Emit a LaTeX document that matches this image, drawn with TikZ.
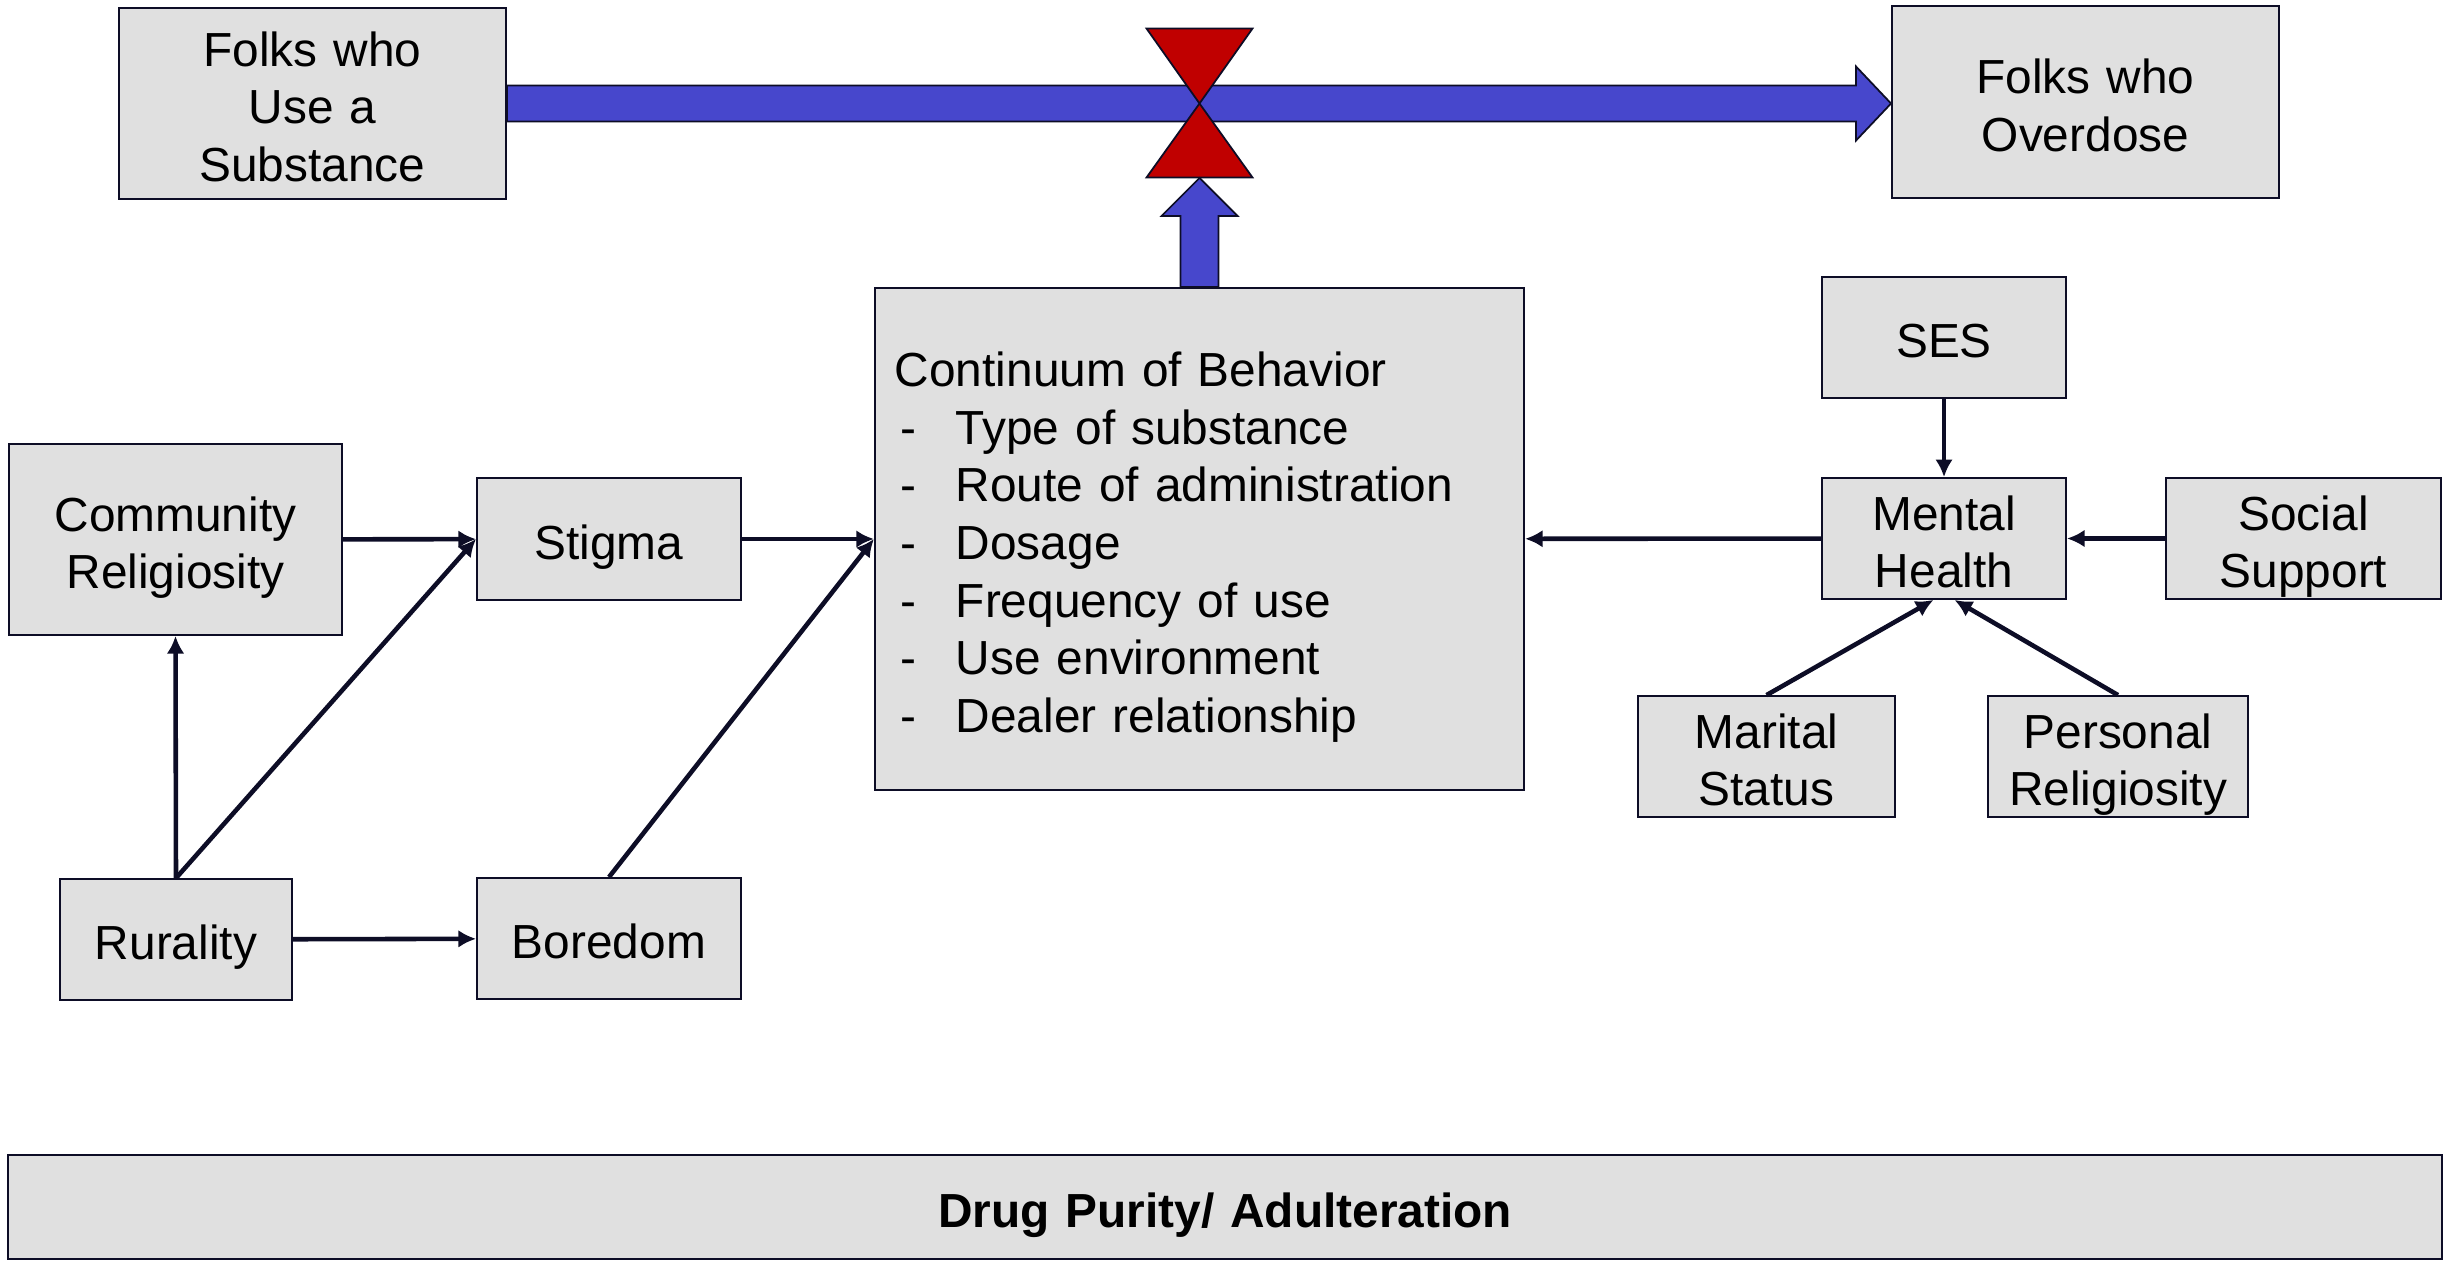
\documentclass[tikz,border=0pt]{standalone}
\usepackage{fontspec}
\setmainfont{Liberation Sans}
\usepackage{tikz}
\usetikzlibrary{arrows.meta, positioning, calc}

\definecolor{boxgray}{RGB}{224,224,224}
\definecolor{edgecol}{RGB}{13,13,38}
\definecolor{flowblue}{RGB}{71,71,204}
\definecolor{valvered}{RGB}{192,0,0}
\newcommand{\bodyfont}{\fontsize{13.6pt}{16.4pt}\selectfont}
\newcommand{\behav}[1]{\makebox[0.61cm][l]{\hspace{1.5pt}-}#1}

\begin{document}
\begin{tikzpicture}[x=0.01cm, y=-0.01cm,
  box/.style={draw=edgecol, fill=boxgray, line width=0.5pt, inner xsep=0.05cm, inner ysep=0pt, align=center, font=\bodyfont,
    execute at begin node={\rule{0pt}{14.6pt}}, execute at end node={\rule[-3pt]{0pt}{3pt}}},
  link/.style={draw=edgecol, line width=1.3pt, -{Latex[length=5pt,width=5pt]}},
  blockarrow/.style={draw=edgecol, fill=flowblue, line width=0.5pt},
  valvepart/.style={draw=edgecol, fill=valvered, line width=0.5pt}]
\useasboundingbox (0,0) rectangle (2458,1260);

% Stock and flow at the top
\node[box, text width=3.77cm, minimum height=1.91cm] (sub) at (312.5,103.5) {Folks who\\Use a\\Substance};
\node[box, text width=3.77cm, minimum height=1.92cm] (ovd) at (2085.5,102) {Folks who\\Overdose};
\coordinate (tip) at (sub.east -| ovd.west);
\draw[blockarrow] ($(sub.east)+(0,-18)$) -- ($(tip)+(-35,-18)$) -- ($(tip)+(-35,-37)$) -- (tip)
  -- ($(tip)+(-35,37)$) -- ($(tip)+(-35,18)$) -- ($(sub.east)+(0,18)$) -- cycle;

% Behaviour box
\node[box, minimum height=5.02cm, text width=6.09cm, inner xsep=0.2cm, align=left] (cont) at (1199.5,539)
  {Continuum of Behavior\\ \behav{Type of substance}\\ \behav{Route of administration}\\ \behav{Dosage}\\
   \behav{Frequency of use}\\ \behav{Use environment}\\ \behav{Dealer relationship}};

% Valve on the flow
\coordinate (valve) at (cont.north |- sub.east);
\draw[valvepart] (valve) -- ++(-53,-75) -- ++(106,0) -- cycle;
\draw[valvepart] (valve) -- ++(-53,74) -- ++(106,0) -- cycle;
\draw[blockarrow] ($(cont.north)+(-19,0)$) -- ++(0,-71) -- ++(-19,0) -- ($(cont.north)+(0,-109)$)
  -- ++(38,38) -- ++(-19,0) -- ($(cont.north)+(19,0)$) -- cycle;

% Right hand factors
\node[box, text width=2.34cm, minimum height=1.21cm] (ses) at (1944,337.5) {SES};
\node[box, text width=2.34cm, minimum height=1.21cm] (mh) at (1944,538.5) {Mental\\Health};
\node[box, text width=2.65cm, minimum height=1.21cm] (socsup) at (2303.5,538.5) {Social\\Support};
\node[box, text width=2.47cm, minimum height=1.21cm] (marital) at (1766.5,756.5) {Marital\\Status};
\node[box, text width=2.50cm, minimum height=1.21cm] (persrel) at (2118,756.5) {Personal\\Religiosity};

% Left hand factors
\node[box, text width=3.23cm, minimum height=1.91cm] (comrel) at (175.5,539.5) {Community\\Religiosity};
\node[box, text width=2.54cm, minimum height=1.22cm] (stigma) at (609,539) {Stigma};
\node[box, text width=2.22cm, minimum height=1.21cm] (rural) at (176,939.5) {Rurality};
\node[box, text width=2.54cm, minimum height=1.21cm] (boredom) at (609,938.5) {Boredom};

% Bottom band
\node[box, text width=24.22cm, minimum height=1.04cm, font=\bodyfont\bfseries] (purity) at (1225,1207) {Drug Purity/ Adulteration};

% Links
\draw[link] (comrel) -- (stigma);
\draw[link] (stigma) -- (cont);
\draw[link] (rural.north) -- (comrel.south);
\draw[link] (rural.north) -- (stigma.west);
\draw[link] (rural) -- (boredom);
\draw[link] (boredom.north) -- (cont.west);
\draw[link] (mh) -- (cont);
\draw[link] (ses) -- (mh);
\draw[link] (socsup) -- (mh);
\draw[link] (marital.north) -- ([xshift=-3pt]mh.south);
\draw[link] (persrel.north) -- ([xshift=3pt]mh.south);
\end{tikzpicture}
\end{document}
